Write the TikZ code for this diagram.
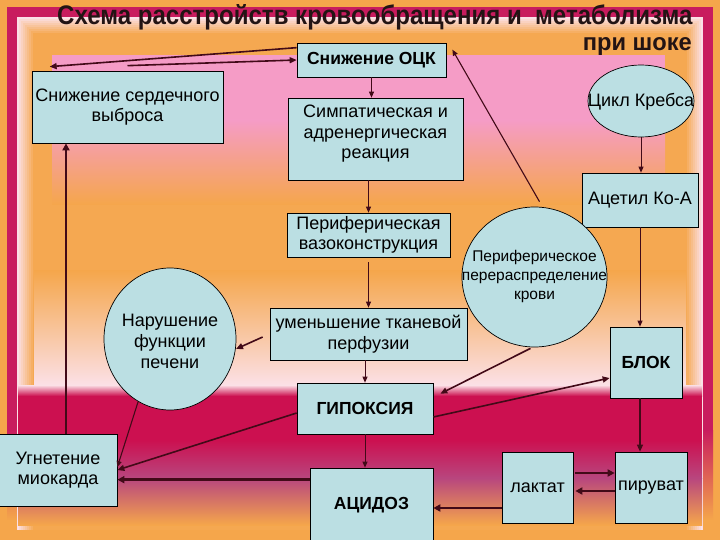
\documentclass[tikz,border=0pt]{standalone}
\usepackage{fontspec}
\setmainfont{Liberation Sans}
\usepackage{graphicx}
\usetikzlibrary{shapes.geometric,arrows.meta,calc}
\definecolor{bgOrange}{HTML}{F5A64B}
\definecolor{frameC}{HTML}{C81C5E}
\definecolor{glowC}{HTML}{FBE0E6}
\definecolor{pinkC}{HTML}{F59CC6}
\definecolor{crimC}{HTML}{CC1050}
\definecolor{mauveC}{HTML}{B8467E}
\definecolor{boxC}{HTML}{BBDFE3}
\definecolor{lineC}{HTML}{420A18}
\definecolor{titleC}{HTML}{231414}
\tikzset{
  box/.style={draw=black, line width=0.7pt, fill=boxC, align=center, inner sep=0pt,
              font=\fontsize{18}{20.5}\selectfont},
  bbox/.style={box, font=\fontsize{17.5}{20}\selectfont\bfseries},
  oval/.style={ellipse, draw=black, line width=0.7pt, fill=boxC, inner sep=0pt},
  ovaltext/.style={align=center, inner sep=0pt, font=\fontsize{18}{21}\selectfont},
  thinarr/.style={draw=lineC, line width=0.9pt, -{Triangle[length=6pt,width=5pt]}},
  medarr/.style={draw=lineC, line width=1.6pt, -{Triangle[length=7pt,width=6pt]}},
  thickarr/.style={draw=lineC, line width=2.6pt, -{Triangle[length=7pt,width=7pt]}}
}
\begin{document}
\begin{tikzpicture}[x=1pt,y=-1pt]
\useasboundingbox (0,0) rectangle (720,540);
\clip (0,0) rectangle (720,540);
% ---------- background ----------
\fill[bgOrange] (0,0) rectangle (720,540);
\fill[frameC] (7,7) rectangle (713,17);
\fill[frameC] (7,7) rectangle (17,430);
\fill[frameC] (703,7) rectangle (713,430);
\shade[top color=frameC, bottom color=bgOrange] (7,430) rectangle (17,520);
\shade[top color=frameC, bottom color=bgOrange] (703,430) rectangle (713,520);
\foreach \i in {0,...,8} {
  \pgfmathtruncatemacro\p{100-\i*12}
  \fill[glowC!\p!bgOrange] ({17+2*\i},{17+2*\i}) rectangle ({703-2*\i},530);
}
\fill[pinkC] (52,55) rectangle (665,120);
\shade[top color=pinkC, bottom color=bgOrange] (52,120) rectangle (665,205);
\shade[top color=bgOrange, bottom color=glowC] (34,270) rectangle (686,385);
\shade[top color=glowC, bottom color=crimC] (18,385) rectangle (702,396);
\fill[crimC] (18,396) rectangle (702,440);
\shade[top color=crimC, bottom color=mauveC] (18,440) rectangle (702,478);
\shade[top color=mauveC, bottom color=bgOrange] (18,478) rectangle (702,525);
% ---------- title ----------
\node[anchor=base west, inner sep=0pt, text=titleC] (title1) at (57,25)
  {\resizebox{635pt}{20pt}{\bfseries Схема расстройств кровообращения и\ \ метаболизма}};
\node[anchor=base east, inner sep=0pt, text=titleC] (title2) at (692,51)
  {\resizebox{109pt}{13pt}{\bfseries при шоке}};
% ---------- nodes ----------
\node[bbox, minimum width=149pt, minimum height=34pt] (ock) at (371.5,60) {Снижение ОЦК};
\node[box, minimum width=191pt, minimum height=72pt] (serd) at (127.5,107) {Снижение сердечного\\выброса};
\node[box, minimum width=175pt, minimum height=82pt] (simp) at (375.5,139) {Симпатическая и\\адренергическая\\реакция\\[-6pt]\mbox{}};
\node[oval, minimum width=106pt, minimum height=72pt] (krebs) at (641,101) {};
\node[ovaltext] (krebsT) at (641,102) {Цикл Кребса};
\node[box, minimum width=116pt, minimum height=54pt] (acetil) at (640,200) {Ацетил Ко-А};
\node[box, minimum width=163pt, minimum height=44pt] (vazo) at (368.5,235) {Периферическая\\вазоконструкция};
\node[oval, minimum width=145pt, minimum height=140pt] (perif) at (534.5,277) {};
\node[ovaltext, font=\fontsize{15.5}{19}\selectfont] (perifT) at (534.5,276) {Периферическое\\перераспределение\\крови};
\node[oval, minimum width=132pt, minimum height=142pt] (pech) at (170,339) {};
\node[ovaltext] (pechT) at (170,341) {Нарушение\\функции\\печени};
\node[box, minimum width=197pt, minimum height=52pt] (umen) at (368.5,334) {уменьшение тканевой\\перфузии};
\node[bbox, minimum width=72pt, minimum height=71pt] (blok) at (646,362.5) {БЛОК};
\node[bbox, minimum width=136pt, minimum height=51pt] (gip) at (365,408.5) {ГИПОКСИЯ};
\node[box, minimum width=118pt, minimum height=72pt] (ugnet) at (58,470) {Угнетение\\миокарда};
\node[bbox, minimum width=123pt, minimum height=74pt] (acid) at (371.5,505) {АЦИДОЗ};
\node[box, minimum width=71pt, minimum height=71pt] (lak) at (537.5,487.5) {лактат};
\node[box, minimum width=72pt, minimum height=71pt] (pir) at (651,487.5) {пируват};
% ---------- connectors ----------
\draw[thinarr] (ock.south) -- (ock.south |- simp.north);
\draw[thinarr] (simp.south -| vazo.north) -- (vazo.north);
\draw[thinarr, shorten <=5pt] (vazo.south) -- (umen.north);
\draw[thinarr] (umen.south -| gip.north) -- (gip.north);
\draw[thinarr] (gip.south) -- (gip.south |- acid.north);
\draw[thinarr] (krebs.south) -- (krebs.south |- acetil.north);
\draw[thinarr] (acetil.south) -- (acetil.south |- blok.north);
\draw[medarr, line width=1.3pt] (blok.south -| acetil.south) -- (acetil.south |- pir.north);
\draw[medarr] ($(ock.north west)+(0,5)$) -- ($(serd.north west)+(18,-4)$);
\draw[medarr] ($(serd.north)+(0,-5)$) -- (ock.west);
\draw[thinarr, line width=1.1pt] ($(perif.north)+(5,-5)$) -- ($(ock.north east)+(6,7)$);
\draw[medarr] ($(perif.south)+(-4,1)$) -- ($(gip.north east)+(7,11)$);
\draw[medarr] ($(gip.east)+(0,8.5)$) -- ($(blok.west)+(0,15.5)$);
\draw[medarr] ($(gip.west)+(0,4.5)$) -- (ugnet.east);
\draw[thinarr, line width=1.1pt] ($(pech.center)+(-32,63)$) -- ($(ugnet.east)+(0,-3)$);
\draw[medarr] ($(umen.west)+(-7,3)$) -- ($(pech.center)+(66,10)$);
\coordinate (a1) at ($(acid.north west)+(0,12)$);
\draw[thickarr] (a1) -- (ugnet.east |- a1);
\coordinate (k1) at ($(lak.west)+(0,20.5)$);
\draw[thickarr] (k1) -- (acid.east |- k1);
\coordinate (k2) at ($(lak.east)+(2,-14.5)$);
\draw[thickarr] (k2) -- (pir.west |- k2);
\coordinate (k3) at ($(pir.west)+(0,3.5)$);
\draw[thickarr] (k3) -- ($(lak.east |- k3)+(2,0)$);
\coordinate (u1) at ($(ugnet.north)+(8,0)$);
\draw[thickarr, line width=2.3pt] (u1) -- (serd.south -| u1);
\end{tikzpicture}
\end{document}
